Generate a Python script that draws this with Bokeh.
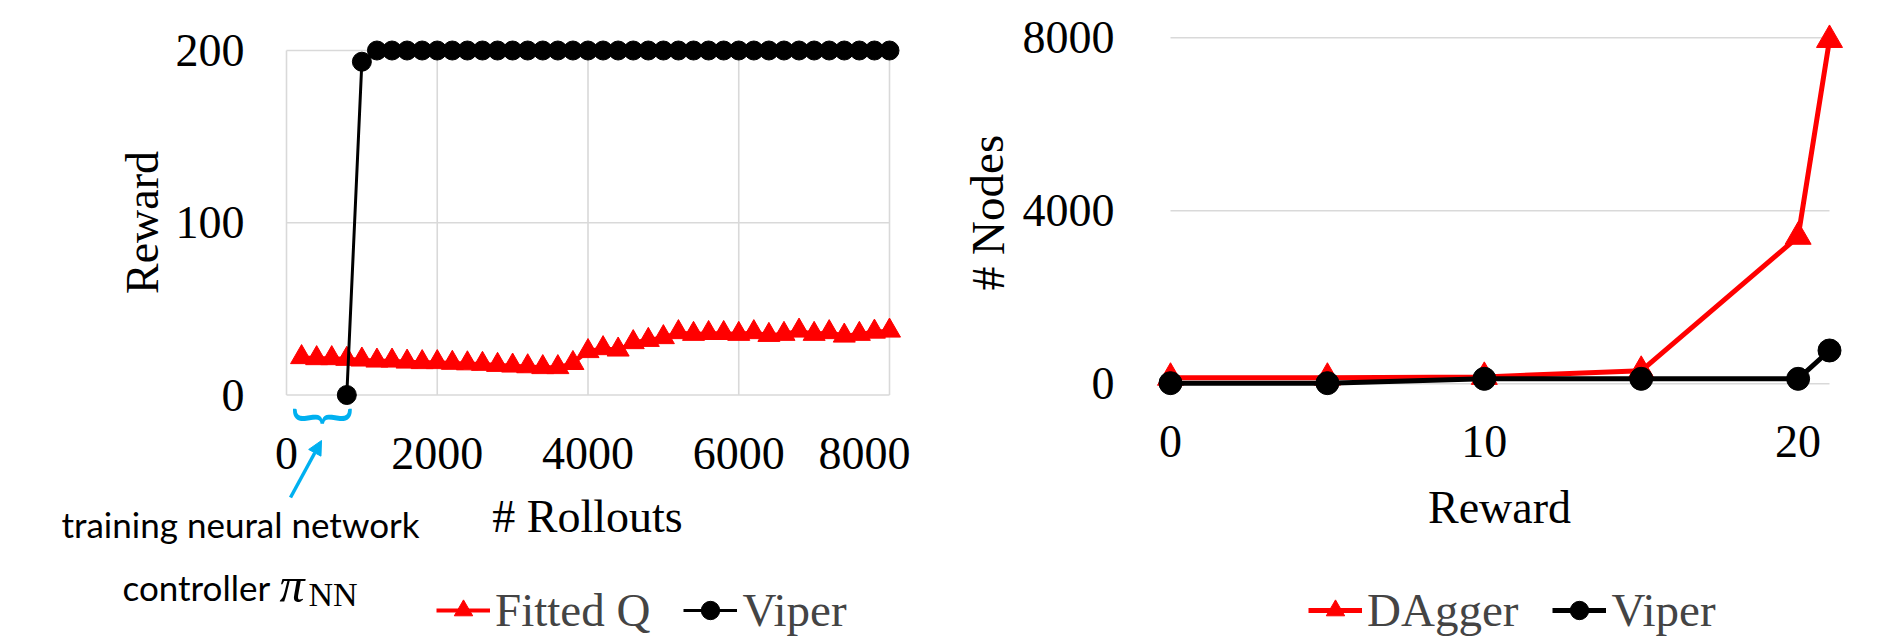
from bokeh.plotting import figure
from bokeh.models import (Range1d, FixedTicker, Legend, LegendItem, Label, Arrow,
                          NormalHead, LinearAxis)
from bokeh.layouts import row
from bokeh.embed import file_html
from bokeh.resources import INLINE

# ---------------- data ----------------
fq_rollouts = [200, 400, 600, 800, 1000, 1200, 1400, 1600, 1800, 2000,
               2200, 2400, 2600, 2800, 3000, 3200, 3400, 3600, 3800, 4000,
               4200, 4400, 4600, 4800, 5000, 5200, 5400, 5600, 5800, 6000,
               6200, 6400, 6600, 6800, 7000, 7200, 7400, 7600, 7800, 8000]
fq_reward = [21.9, 21.3, 21.3, 20.9, 20.5, 19.9, 19.9, 19.3, 19.0, 19.0,
             18.6, 18.3, 18.0, 17.4, 17.0, 16.6, 16.1, 16.1, 18.5, 25.4,
             27.1, 26.3, 30.6, 31.9, 33.5, 36.4, 35.4, 35.9, 35.9, 35.4,
             36.4, 34.8, 35.4, 37.3, 35.4, 36.4, 34.4, 35.4, 36.7, 37.3]
vp_rollouts = [800, 1000, 1200, 1400, 1600, 1800, 2000, 2200, 2400, 2600,
               2800, 3000, 3200, 3400, 3600, 3800, 4000, 4200, 4400, 4600,
               4800, 5000, 5200, 5400, 5600, 5800, 6000, 6200, 6400, 6600,
               6800, 7000, 7200, 7400, 7600, 7800, 8000]
vp_reward = [0, 193.5, 200, 200, 200, 200, 200, 200, 200, 200,
             200, 200, 200, 200, 200, 200, 200, 200, 200, 200,
             200, 200, 200, 200, 200, 200, 200, 200, 200, 200,
             200, 200, 200, 200, 200, 200, 200]
left_x_ticks = [0, 2000, 4000, 6000, 8000]
left_y_ticks = [0, 100, 200]

nodes_reward = [0, 5, 10, 15, 20, 21]
dagger_nodes = [140, 140, 160, 300, 3400, 7950]
viper_nodes = [15, 15, 115, 115, 115, 770]
right_x_ticks = [0, 10, 20]
right_y_ticks = [0, 4000, 8000]

# ---------------- styling ----------------
SERIF = "Liberation Serif"
SANS = "Lato"
RED = "#FF0000"
BLACK = "#000000"
GRID = "#D9D9D9"
BLUE = "#00B0F0"
TICK_FS = "46px"
LABEL_FS = "46px"
LEG_FS = "47px"
FIG_H = 636
PAGE_TOP = 0
PAGE_BOTTOM = PAGE_TOP + FIG_H


# picture-pixel -> data mappings for both charts
def lx(px):
    return (px - 286.0) / (889.0 - 286.0) * 8000.0


def ly(py):
    return (394.5 - py) / (394.5 - 50.0) * 200.0


def rx(px):
    return (px - 1170.0) / (1829.0 - 1170.0) * 21.0


def ry(py):
    return (383.3 - py) / (383.3 - 37.3) * 8000.0


def make_axis(ticks, loc, lab_standoff):
    ax = LinearAxis(ticker=FixedTicker(ticks=ticks), fixed_location=loc)
    ax.axis_line_color = None
    ax.major_tick_line_color = None
    ax.minor_tick_line_color = None
    ax.major_label_text_font = SERIF
    ax.major_label_text_font_size = TICK_FS
    ax.major_label_text_color = BLACK
    ax.major_label_standoff = lab_standoff
    return ax


def title_label(x, y, text, angle=0.0, fs=LABEL_FS):
    return Label(x=x, y=y, text=text, angle=angle, text_font=SERIF,
                 text_font_size=fs, text_color=BLACK,
                 text_align="center", text_baseline="middle")


def base_fig(x0, x1, xmap, ymap):
    p = figure(output_backend="svg", toolbar_location=None,
               width=x1 - x0, height=FIG_H, min_border=0,
               x_range=Range1d(xmap(x0), xmap(x1)),
               y_range=Range1d(ymap(PAGE_BOTTOM), ymap(PAGE_TOP)),
               x_axis_location=None, y_axis_location=None)
    p.xgrid.visible = False
    p.ygrid.visible = False
    p.outline_line_color = None
    p.background_fill_color = "white"
    p.border_fill_color = "white"
    return p


def make_legend(items, x_page, x0, center_page, spacing):
    return Legend(items=items, orientation="horizontal",
                  location=(x_page - x0, PAGE_BOTTOM - center_page - 27),
                  label_text_font=SERIF, label_text_font_size=LEG_FS,
                  glyph_width=54, glyph_height=46, label_standoff=5, spacing=spacing,
                  padding=0, margin=0, border_line_color=None, background_fill_alpha=0)


# ---------------- left chart ----------------
L0, L1 = 0, 910
pl = base_fig(L0, L1, lx, ly)
pl.add_layout(make_axis(left_x_ticks, left_y_ticks[0], 37), "below")
pl.add_layout(make_axis(left_y_ticks, left_x_ticks[0], 36), "left")
pl.add_layout(title_label(lx(587), ly(516), "# Rollouts"))
pl.add_layout(title_label(lx(142), ly(222), "Reward", angle=1.5708))

n = len(left_x_ticks)
pl.segment(x0=left_x_ticks, y0=[left_y_ticks[0]] * n, x1=left_x_ticks, y1=[left_y_ticks[-1]] * n,
           line_color=GRID, line_width=1.6)
m = len(left_y_ticks)
pl.segment(x0=[left_x_ticks[0]] * m, y0=left_y_ticks, x1=[left_x_ticks[-1]] * m, y1=left_y_ticks,
           line_color=GRID, line_width=1.6)

fq_line = pl.line(fq_rollouts, fq_reward, line_color=RED, line_width=4)
fq_pts = pl.scatter(fq_rollouts, fq_reward, marker="triangle", size=22,
                    fill_color=RED, line_color=RED)
vp_line = pl.line(vp_rollouts, vp_reward, line_color=BLACK, line_width=3)
vp_pts = pl.scatter(vp_rollouts, vp_reward, marker="circle", size=19,
                    fill_color=BLACK, line_color=BLACK)

pl.add_layout(make_legend([LegendItem(label="Fitted Q", renderers=[fq_line, fq_pts]),
                           LegendItem(label="Viper", renderers=[vp_line, vp_pts])],
                          436, L0, 610, 33))

# annotation: brace, arrow, text
pl.add_layout(Label(x=lx(326), y=ly(416), text="}", angle=-1.5708,
                    text_font=SANS, text_font_size="64px", text_color=BLUE,
                    text_align="center", text_baseline="middle"))
pl.add_layout(Arrow(x_start=lx(290), y_start=ly(497), x_end=lx(321), y_end=ly(440),
                    line_color=BLUE, line_width=3.5,
                    end=NormalHead(size=14, fill_color=BLUE, line_color=BLUE)))
pl.add_layout(Label(x=lx(240), y=ly(523), text="training neural network",
                    text_font=SANS, text_font_size="35px", text_color=BLACK,
                    text_align="center", text_baseline="middle"))
pl.add_layout(Label(x=lx(122), y=ly(586), text="controller",
                    text_font=SANS, text_font_size="35px", text_color=BLACK,
                    text_align="left", text_baseline="middle"))
pl.add_layout(Label(x=lx(279), y=ly(584), text="π",
                    text_font=SERIF, text_font_style="italic", text_font_size="50px",
                    text_color=BLACK, text_align="left", text_baseline="middle"))
pl.add_layout(Label(x=lx(308), y=ly(594), text="NN",
                    text_font=SERIF, text_font_size="34px", text_color=BLACK,
                    text_align="left", text_baseline="middle"))

# ---------------- right chart ----------------
R0, R1 = L1, 1870
pr = base_fig(R0, R1, rx, ry)
pr.add_layout(make_axis(right_x_ticks, right_y_ticks[0], 36), "below")
pr.add_layout(make_axis(right_y_ticks, nodes_reward[0], 50), "left")
pr.add_layout(title_label(rx(1499), ry(507), "Reward"))
pr.add_layout(title_label(rx(987), ry(212), "# Nodes", angle=1.5708, fs="47px"))

k = len(right_y_ticks)
pr.segment(x0=[nodes_reward[0]] * k, y0=right_y_ticks, x1=[nodes_reward[-1]] * k, y1=right_y_ticks,
           line_color=GRID, line_width=1.6)

dg_line = pr.line(nodes_reward, dagger_nodes, line_color=RED, line_width=5)
dg_pts = pr.scatter(nodes_reward, dagger_nodes, marker="triangle", size=26,
                    fill_color=RED, line_color=RED)
vn_line = pr.line(nodes_reward, viper_nodes, line_color=BLACK, line_width=5)
vn_pts = pr.scatter(nodes_reward, viper_nodes, marker="circle", size=23,
                    fill_color=BLACK, line_color=BLACK)

pr.add_layout(make_legend([LegendItem(label="DAgger", renderers=[dg_line, dg_pts]),
                           LegendItem(label="Viper", renderers=[vn_line, vn_pts])],
                          1308, R0, 610, 34))

layout = row(pl, pr)
open("out.html", "w").write(file_html(layout, INLINE))
